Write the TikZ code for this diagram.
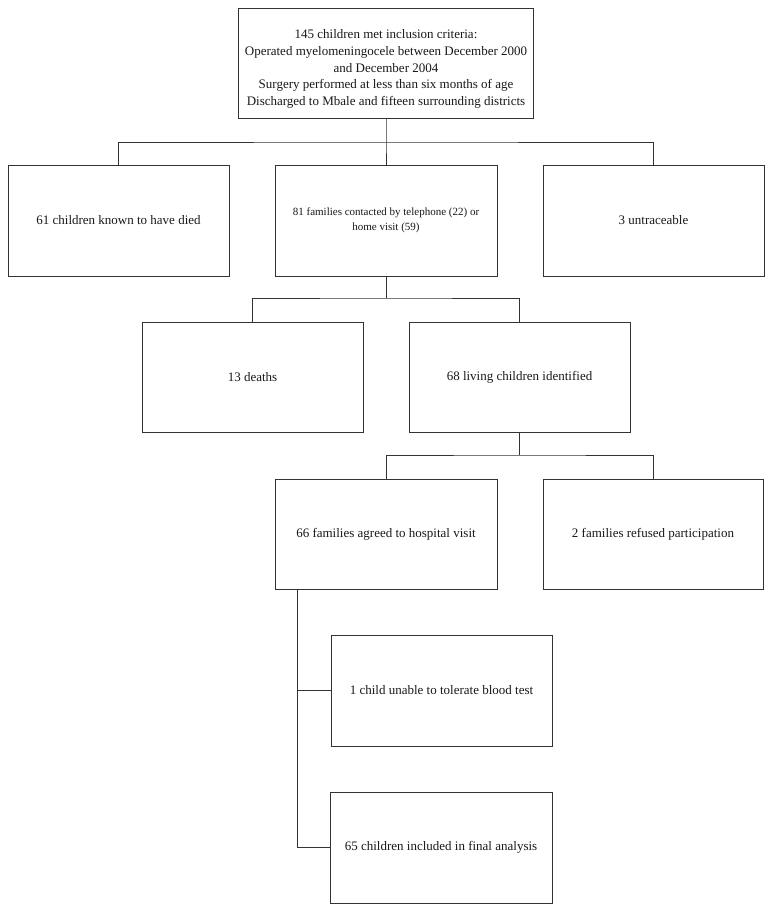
\documentclass[tikz,border=0pt]{standalone}
\usepackage{fontspec}
\setmainfont{Liberation Serif}
\begin{document}
\begin{tikzpicture}[x=1pt,y=-1pt,
  box/.style={draw=black!80, line width=0.9pt, rectangle, inner sep=2pt,
    minimum width=221pt, minimum height=110pt, align=center,
    font=\fontsize{13}{16.7}\selectfont, text=black!90},
  link/.style={draw=black!80, line width=0.9pt}]
\useasboundingbox (0,0) rectangle (772,911);
\fill[white] (0,0) rectangle (772,911);

\node[box, minimum width=295pt] (top) at (386,63)
  {\rule{0pt}{21pt}145 children met inclusion criteria:\\
   Operated myelomeningocele between December 2000\\
   and December 2004\\
   Surgery performed at less than six months of age\\
   Discharged to Mbale and fifteen surrounding districts};

\node[box, minimum height=111pt] (died) at (118.5,220.5) {61 children known to have died};
\node[box, minimum width=222pt, minimum height=111pt, font=\fontsize{11}{15}\selectfont] (fam) at (386,220.5)
  {81 families contacted by telephone (22) or\\ home visit (59)};
\node[box, minimum height=111pt] (untr) at (653.5,220.5) {3 untraceable};

\node[box] (deaths) at (252.5,377) {13 deaths};
\node[box] (living) at (519.5,377) {68 living children identified};

\node[box, minimum width=222pt] (agreed) at (386,534) {66 families agreed to hospital visit};
\node[box, minimum width=220pt] (refused) at (653,534) {2 families refused participation};

\node[box, minimum height=111pt] (blood) at (441.5,690.5) {1 child unable to tolerate blood test};
\node[box, minimum width=222pt, minimum height=111pt] (final) at (441,847.5) {65 children included in final analysis};

\coordinate (bus1) at (386,142);
\coordinate (bus2) at (386,298);
\coordinate (bus3) at (519.5,455);
\coordinate (stem) at (297,589);

\draw[link] (top.south) -- (bus1) -- (fam.north);
\draw[link] (died.north) |- (bus1) -| (untr.north);
\draw[link] (fam.south) -- (bus2);
\draw[link] (deaths.north) |- (bus2) -| (living.north);
\draw[link] (living.south) -- (bus3);
\draw[link] (agreed.north) |- (bus3) -| (refused.north);
\draw[link] (stem) |- (blood.west);
\draw[link] (stem) |- (final.west);
\end{tikzpicture}
\end{document}
